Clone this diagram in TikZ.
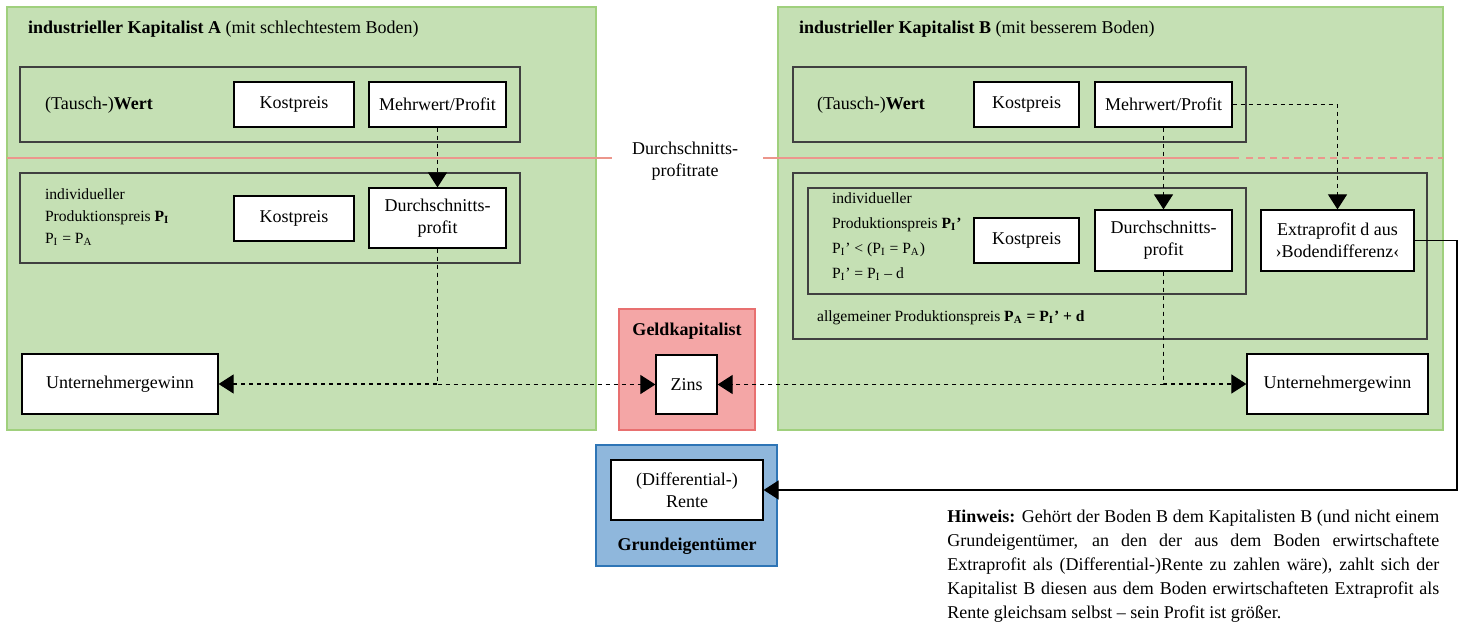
\documentclass[tikz,border=0pt]{standalone}
\usepackage{fontspec}
\setmainfont{Liberation Serif}
\usetikzlibrary{arrows.meta}
\definecolor{kapgreen}{RGB}{197,224,180}
\definecolor{kapgreenline}{RGB}{160,208,125}
\definecolor{geldred}{RGB}{244,166,166}
\definecolor{geldredline}{RGB}{232,112,112}
\definecolor{grundblue}{RGB}{143,183,220}
\definecolor{grundblueline}{RGB}{46,117,182}
\definecolor{rateline}{RGB}{236,150,140}

\tikzset{
  kapbox/.style={fill=kapgreen, draw=kapgreenline, line width=0.6pt},
  frame/.style={draw=black!75, line width=0.7pt},
  box/.style={draw, fill=white, line width=0.6pt, inner sep=2pt, align=center},
  flow/.style={dash pattern=on 2pt off 2pt, line width=0.55pt, -{Triangle[length=7.5pt,width=9.5pt]}},
  rente/.style={line width=0.55pt, -{Triangle[length=7.5pt,width=9.5pt]}},
  rate/.style={draw=rateline, line width=0.7pt},
  small/.style={font=\fontsize{7.8}{11}\selectfont, align=left, anchor=west}
}

\begin{document}
\begin{tikzpicture}[x=0.5pt, y=-0.5pt, font=\fontsize{9}{11}\selectfont]
        \useasboundingbox (0,0) rectangle (1462,626);

        % Kapitalist A
        \draw[kapbox] (7,7) rectangle (596,430);
        \node[anchor=west] (titleA) at (21,29) {\textbf{industrieller Kapitalist A} (mit schlechtestem Boden)};

        % Kapitalist B
        \draw[kapbox] (778,7) rectangle (1443,430);
        \node[anchor=west] (titleB) at (792,29) {\textbf{industrieller Kapitalist B} (mit besserem Boden)};

        % Geldkapitalist and Grundeigentuemer
        \draw[fill=geldred, draw=geldredline, line width=0.6pt] (619,309) rectangle (755,430);
        \node[font=\fontsize{9}{11}\selectfont\bfseries] (geld) at (687,331) {Geldkapitalist};
        \draw[fill=grundblue, draw=grundblueline, line width=0.6pt] (596,445) rectangle (777,566);
        \node[font=\fontsize{9}{11}\selectfont\bfseries] (grund) at (687,546) {Grundeigentümer};

        % Durchschnittsprofitrate
        \draw[rate] (7,158) -- (612,158);
        \draw[rate] (763,158) -- (1239,158);
        \draw[rate, dash pattern=on 3.5pt off 2.5pt] (1246,158) -- (1443,158);
        \node[align=center] (rate) at (685,161) {Durchschnitts-\\profitrate};

        % frames A
        \draw[frame] (20,67) rectangle (520,142);
        \draw[frame] (20,173) rectangle (520,263);
        \node[anchor=west] (wertA) at (38,105) {(Tausch-)\textbf{Wert}};
        \node[small] (preisA) at (38,217) {individueller\\Produktionspreis \textbf{P\textsubscript{I}}\\P\textsubscript{I} = P\textsubscript{A}};

        % frames B
        \draw[frame] (793,67) rectangle (1246,142);
        \draw[frame] (793,173) rectangle (1427,339);
        \draw[frame] (808,188) rectangle (1246,294);
        \node[anchor=west] (wertB) at (810,105) {(Tausch-)\textbf{Wert}};
        \node[small, font=\fontsize{7.8}{12.5}\selectfont] (preisB) at (825,237) {individueller\\Produktionspreis \textbf{P\textsubscript{I}’}\\P\textsubscript{I}’ < (P\textsubscript{I} = P\textsubscript{A})\\P\textsubscript{I}’ = P\textsubscript{I} -- d};
        \node[small] (allgB) at (810,318) {allgemeiner Produktionspreis \textbf{P\textsubscript{A} = P\textsubscript{I}’ + d}};

        % boxes A
        \node[box, minimum width=60pt, minimum height=22.5pt] (kpA) at (294,104.5) {Kostpreis};
        \node[box, minimum width=68.5pt, minimum height=22.5pt] (mwA) at (437.5,104.5) {Mehrwert/Profit};
        \node[box, minimum width=60pt, minimum height=22.5pt] (kp2A) at (294,218.5) {Kostpreis};
        \node[box, minimum width=68.5pt, minimum height=30pt] (dpA) at (437.5,218) {Durchschnitts-\\profit};
        \node[box, minimum width=98pt, minimum height=30pt] (ugA) at (120,384) {Unternehmergewinn};

        % boxes B
        \node[box, minimum width=52.5pt, minimum height=22.5pt] (kpB) at (1026.5,104.5) {Kostpreis};
        \node[box, minimum width=68.5pt, minimum height=22.5pt] (mwB) at (1163.5,104.5) {Mehrwert/Profit};
        \node[box, minimum width=52.5pt, minimum height=22.5pt] (kp2B) at (1026.5,240.5) {Kostpreis};
        \node[box, minimum width=68.5pt, minimum height=30.5pt] (dpB) at (1163.5,240.5) {Durchschnitts-\\profit};
        \node[box, minimum width=76.5pt, minimum height=30.5pt] (extra) at (1337.5,240.5) {Extraprofit d aus\\›Bodendifferenz‹};
        \node[box, minimum width=90.5pt, minimum height=30pt] (ugB) at (1337.5,384) {Unternehmergewinn};

        % Zins and Rente
        \node[box, minimum width=30.5pt, minimum height=29.5pt] (zins) at (686.5,384.5) {Zins};
        \node[box, minimum width=76pt, minimum height=30pt] (rente) at (687,490) {(Differential-)\\Rente};

        % flows
        \draw[flow] (mwA.south) -- (dpA.north);
        \draw[flow] (dpA.south) |- (ugA.east);
        \draw[flow] (dpA.south) |- (zins.west);
        \draw[flow] (mwB.south) -- (dpB.north);
        \draw[flow] (mwB.east) -| (extra.north);
        \draw[flow] (dpB.south) |- (zins.east);
        \draw[flow] (dpB.south) |- (ugB.west);
        \coordinate (turn) at (1457,240.5);
        \draw[rente] (extra.east) -- (turn) |- (rente.east);

        % Hinweis
        \node[anchor=north west, text width=246pt, align=justify, inner sep=0pt, font=\fontsize{9}{12}\selectfont] (hinweis) at (947,510) {\hyphenpenalty=10000 \textbf{Hinweis:} Gehört der Boden B dem Kapitalisten B (und nicht einem\linebreak Grundeigentümer, an den der aus dem Boden erwirtschaftete\linebreak Extraprofit als (Differential-)Rente zu zahlen wäre), zahlt sich der\linebreak Kapitalist B diesen aus dem Boden erwirtschafteten Extraprofit als\linebreak Rente gleichsam selbst -- sein Profit ist größer.};
\end{tikzpicture}
\end{document}
